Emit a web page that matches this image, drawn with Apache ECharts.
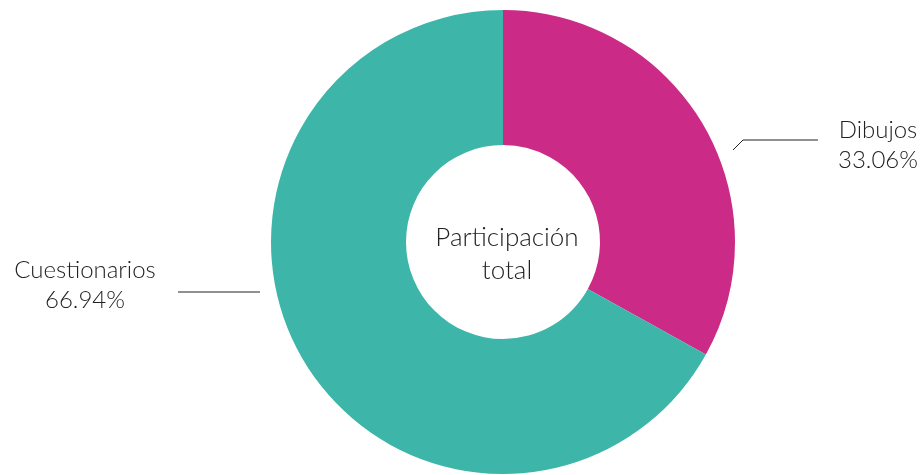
<!DOCTYPE html>
<html><head><meta charset="utf-8">
<script src="https://cdn.jsdelivr.net/npm/echarts@6/dist/echarts.min.js"></script>
<style>html,body{margin:0;padding:0;background:#fff}#c{width:922px;height:475px}</style>
</head><body><div id="c"></div>
<script>
const categories = ['Dibujos', 'Cuestionarios'];
const values = [33.06, 66.94];
const colors = ['#CC2A87', '#3DB5A9'];
const centerText = 'Participación\ntotal';

const chart = echarts.init(document.getElementById('c'));
const FONT = 'Lato';
const labelPos = [
  {x: 878, y: 145, line: [[733, 150], [743, 140], [818, 140]]},
  {x: 85, y: 285, line: [[260, 292], [178, 292]]}
];
chart.setOption({
  animation: false,
  title: {
    text: centerText,
    left: 502, top: 216,
    textAlign: 'center',
    textStyle: {fontFamily: FONT, fontWeight: 300, fontSize: 26, color: '#222', lineHeight: 33}
  },
  series: [{
    type: 'pie',
    center: [503, 242],
    radius: [97, 232],
    startAngle: 90,
    clockwise: true,
    data: categories.map((c, i) => ({name: c, value: values[i], itemStyle: {color: colors[i]}})),
    label: {
      show: true,
      formatter: p => p.name + '\n' + p.value.toFixed(2) + '%',
      fontFamily: FONT, fontWeight: 300, fontSize: 24, color: '#222', lineHeight: 30,
      align: 'center'
    },
    labelLine: {show: true, lineStyle: {color: '#222', width: 1}},
    labelLayout: function (params) {
      const lp = labelPos[params.dataIndex];
      return {x: lp.x, y: lp.y, align: 'center', verticalAlign: 'middle', labelLinePoints: lp.line};
    }
  }]
});
</script></body></html>
